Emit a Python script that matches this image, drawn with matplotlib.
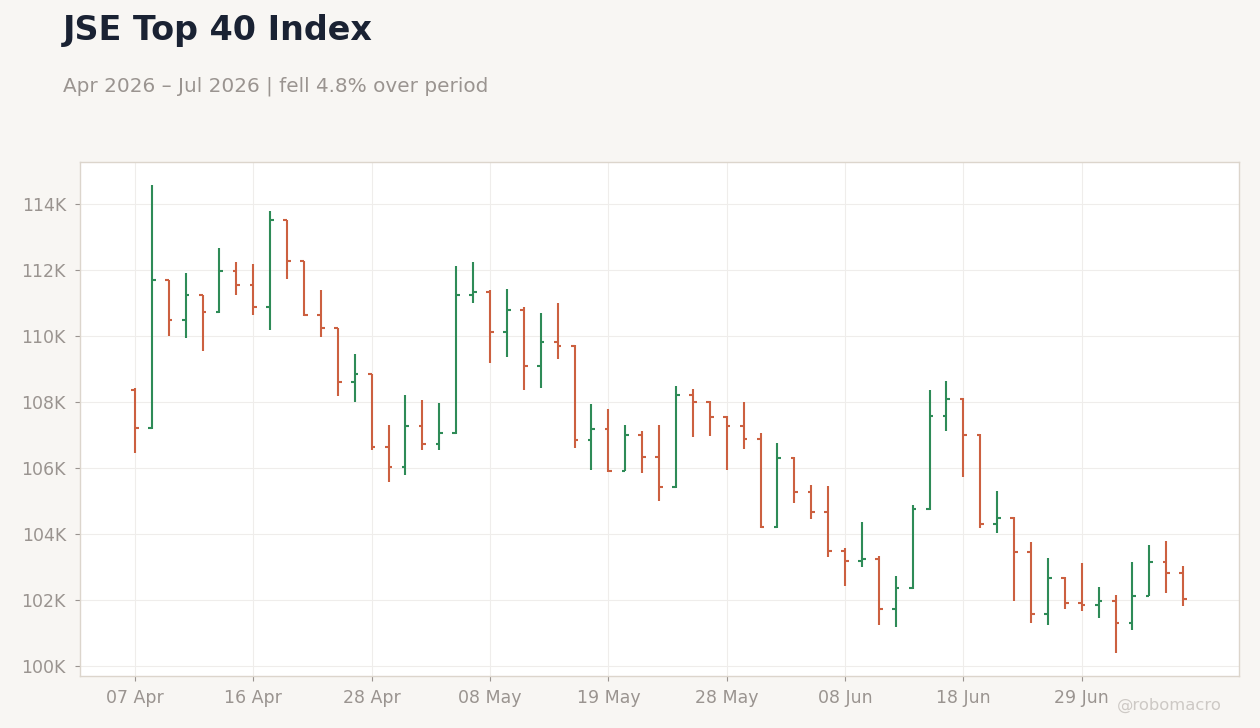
import matplotlib
matplotlib.use("Agg")
import matplotlib.pyplot as plt
from matplotlib.ticker import FuncFormatter
import numpy as np

# trading days (JSE calendar), Apr-Jul 2026
dates = ["07 Apr", "08 Apr", "09 Apr", "10 Apr", "13 Apr", "14 Apr", "15 Apr",
         "16 Apr", "17 Apr", "20 Apr", "21 Apr", "22 Apr", "23 Apr", "24 Apr",
         "28 Apr", "29 Apr", "30 Apr", "04 May", "05 May", "06 May", "07 May",
         "08 May", "11 May", "12 May", "13 May", "14 May", "15 May", "18 May",
         "19 May", "20 May", "21 May", "22 May", "25 May", "26 May", "27 May",
         "28 May", "29 May", "01 Jun", "02 Jun", "03 Jun", "04 Jun", "05 Jun",
         "08 Jun", "09 Jun", "10 Jun", "11 Jun", "12 Jun", "15 Jun", "17 Jun",
         "18 Jun", "19 Jun", "22 Jun", "23 Jun", "24 Jun", "25 Jun", "26 Jun",
         "29 Jun", "30 Jun", "01 Jul", "02 Jul", "03 Jul", "06 Jul", "07 Jul"]

opens = [108350, 107200, 111680, 110470, 111230, 110720, 111960, 111540, 110870, 113500,
         112260, 110620, 110220, 108590, 108830, 106620, 106010, 107250, 106710, 107040,
         111220, 111340, 110100, 110770, 109070, 109800, 109700, 106850, 107160, 105910,
         106980, 106310, 105400, 108200, 107990, 107540, 107260, 106870, 104190, 106290,
         105260, 104660, 103460, 103160, 103220, 101700, 102340, 104740, 107560, 108080,
         106990, 104280, 104470, 103430, 101570, 102640, 101900, 101850, 101970, 101300,
         102120, 103130, 102810]
highs = [108420, 114560, 111700, 111890, 111250, 112650, 112240, 112180, 113770, 113520,
         112280, 111390, 110240, 109450, 108850, 107300, 108210, 108060, 107970, 112100,
         112240, 111390, 111420, 110880, 110700, 111000, 109720, 107940, 107790, 107300,
         107120, 107300, 108480, 108370, 108010, 107560, 108000, 107040, 106740, 106330,
         105460, 105430, 103560, 104360, 103330, 102720, 104880, 108340, 108620, 108100,
         107020, 105280, 104490, 103760, 103270, 102690, 103120, 102390, 102140, 103150,
         103660, 103790, 103030]
lows = [106450, 107180, 109990, 109940, 109540, 110700, 111230, 110630, 110170, 111720,
        110590, 109950, 108160, 107980, 106530, 105560, 105770, 106550, 106550, 107020,
        110990, 109160, 109370, 108340, 108400, 109280, 106590, 105920, 105860, 105890,
        105830, 104980, 105380, 106930, 106960, 105930, 106570, 104170, 104170, 104930,
        104440, 103290, 102400, 102980, 101240, 101180, 102320, 104720, 107110, 105710,
        104160, 104010, 101970, 101300, 101240, 101700, 101660, 101450, 100390, 101090,
        102100, 102210, 101790]
closes = [107200, 111680, 110470, 111230, 110720, 111960, 111540, 110870, 113500, 112260,
          110620, 110220, 108590, 108830, 106620, 106010, 107250, 106710, 107040, 111220,
          111340, 110100, 110770, 109070, 109800, 109700, 106850, 107160, 105910, 106980,
          106310, 105400, 108200, 107990, 107540, 107260, 106870, 104190, 106290, 105260,
          104660, 103460, 103160, 103220, 101700, 102340, 104740, 107560, 108080, 106990,
          104280, 104470, 103430, 101570, 102640, 101900, 101850, 101970, 101300, 102120,
          103130, 102810, 102020]

UP = "#2e8b57"
DOWN = "#cc6040"
BG = "#f8f6f3"

o = np.array(opens); h = np.array(highs); l = np.array(lows); c = np.array(closes)
x = np.arange(len(dates))
cols = [UP if cc >= oo else DOWN for oo, cc in zip(o, c)]

fig = plt.figure(figsize=(12.6, 7.28), dpi=100, facecolor=BG)
ax = fig.add_axes([0.0635, 0.0714, 0.9198, 0.7061])
ax.set_facecolor("white")

tw = 0.22
ax.vlines(x, l, h, colors=cols, linewidth=1.5, zorder=3)
ax.hlines(o, x - tw, x, colors=cols, linewidth=1.5, zorder=3)
ax.hlines(c, x, x + tw, colors=cols, linewidth=1.5, zorder=3)

rng = h.max() - l.min()
ax.set_ylim(l.min() - 0.05 * rng, h.max() + 0.05 * rng)
ax.set_xlim(-3.25, len(dates) - 1 + 3.3)

ax.set_yticks(np.arange(100000, 114001, 2000))
ax.yaxis.set_major_formatter(FuncFormatter(lambda v, p: f"{v/1000:.0f}K"))
tick_idx = list(range(0, len(dates), 7))
ax.set_xticks(tick_idx)
ax.set_xticklabels([dates[i] for i in tick_idx])

ax.grid(True, color="#efedeb", linewidth=0.8, zorder=0)
ax.set_axisbelow(True)
for s in ax.spines.values():
    s.set_color("#dcd5cc")
    s.set_linewidth(1.0)
ax.tick_params(colors="#9a9490", labelsize=12.5, length=3.6, width=0.8)
ax.tick_params(axis="y", pad=6.5)
ax.tick_params(axis="x", pad=5.5)

fig.text(0.05, 0.945, "JSE Top 40 Index", fontsize=24, fontweight="bold",
         color="#1a2233", va="baseline")
fig.text(0.05, 0.875, "Apr 2026 \u2013 Jul 2026 | fell 4.8% over period",
         fontsize=14.4, color="#9a9490", va="baseline")
fig.text(0.97, 0.025, "@robomacro", fontsize=11.8, color="#cdc9c5", ha="right",
         va="baseline")

fig.savefig("out.png", dpi=100, facecolor=BG)
